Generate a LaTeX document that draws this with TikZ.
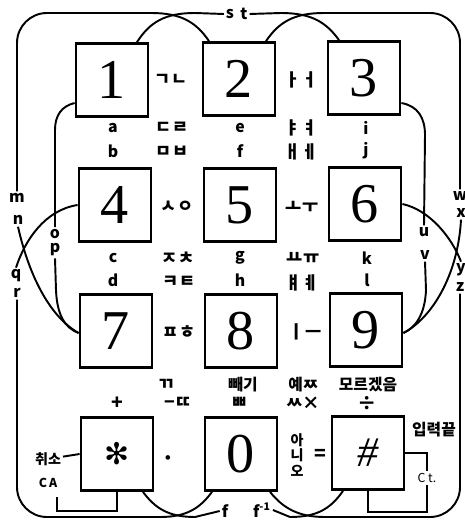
\documentclass[tikz,border=0pt]{standalone}
\usepackage{fontspec}
\newfontfamily\kr{Noto Sans CJK KR}
\newfontfamily\symfont{DejaVu Sans}
\newfontfamily\keyfont{Liberation Serif}
\usepackage{tikz}
\usetikzlibrary{arrows.meta, calc}

\tikzset{
  keybox/.style={draw, line width=1.6pt, minimum width=1.44cm, minimum height=1.46cm, inner sep=0pt, font=\keyfont\fontsize{32}{32}\selectfont},
  lbl/.style={inner sep=1pt, font=\kr\bfseries\fontsize{9}{9}\selectfont},
  jamo/.style={inner sep=1pt, font=\kr\bfseries\fontsize{10}{10}\selectfont},
  sign/.style={inner sep=1pt, font=\kr\bfseries\fontsize{11}{11}\selectfont},
  wire/.style={line width=1.1pt}
}

\begin{document}
\begin{tikzpicture}[x=0.02cm, y=-0.02cm]
    \useasboundingbox (0,0) rectangle (465,520);

    % keys
    \node[keybox] (k1) at (112,80) {1};
    \node[keybox] (k2) at (239,79) {2};
    \node[keybox] (k3) at (364,78) {3};
    \node[keybox] (k4) at (115,205) {4};
    \node[keybox] (k5) at (240,205) {5};
    \node[keybox] (k6) at (365,204) {6};
    \node[keybox] (k7) at (116,331) {7};
    \node[keybox] (k8) at (241,331) {8};
    \node[keybox] (k9) at (366,330) {9};
    \node[keybox, font=\symfont\fontsize{17}{17}\selectfont] (kstar) at (117,454) {✻};
    \node[keybox] (k0) at (241,454) {0};
    \node[keybox, font=\keyfont\itshape\fontsize{24}{24}\selectfont] (khash) at (368,453) {\#};

    % letters under the keys
    \node[lbl] (la) at (113,128) {a};
    \node[lbl] (lb) at (113,151) {b};
    \node[lbl] (le) at (240,128) {e};
    \node[lbl] (lf) at (240,151) {f};
    \node[lbl] (li) at (366,128) {i};
    \node[lbl] (lj) at (366,151) {j};
    \node[lbl] (lc) at (113,258) {c};
    \node[lbl] (ld) at (113,280) {d};
    \node[lbl] (lg) at (240,258) {g};
    \node[lbl] (lh) at (240,280) {h};
    \node[lbl] (lk) at (367,258) {k};
    \node[lbl] (ll) at (367,280) {l};

    % jamo between the keys
    \node[jamo] (gn) at (171,80) {ㄱㄴ};
    \node[jamo] (ao) at (301,80) {ㅏㅓ};
    \node[jamo] (dr) at (172,128) {ㄷㄹ};
    \node[jamo] (mb) at (172,152) {ㅁㅂ};
    \node[jamo] (yayo) at (301,128) {ㅑㅕ};
    \node[jamo] (aee) at (301,152) {ㅐㅔ};
    \node[jamo] (sng) at (177,207) {ㅅㅇ};
    \node[jamo] (ou) at (302,207) {ㅗㅜ};
    \node[jamo] (jch) at (178,258) {ㅈㅊ};
    \node[jamo] (kt) at (179,282) {ㅋㅌ};
    \node[jamo] (yoyu) at (303,258) {ㅛㅠ};
    \node[jamo] (yaeye) at (302,283) {ㅒㅖ};
    \node[jamo] (ph) at (179,332) {ㅍㅎ};
    \node[jamo] (ieu) at (305,332) {ㅣㅡ};

    % bottom row signs
    \node[sign] (plus) at (117,403) {+};
    \node[jamo] (gg) at (167,385) {ㄲ};
    \node[jamo] (dd) at (178,403) {−ㄸ};
    \node[lbl] (bbaegi) at (243,385) {빼기};
    \node[jamo] (bb) at (240,403) {ㅃ};
    \node[lbl] (yes) at (303,385) {예ㅉ};
    \node[jamo] (ss) at (303,403) {ㅆ×};
    \node[lbl] (dunno) at (368,385) {모르겠음};
    \node[sign] (divide) at (367,403) {÷};
    \node[font=\small] (point) at (168,459) {\textbullet};
    \node[lbl, align=center, font=\kr\bfseries\fontsize{8}{9}\selectfont] (no) at (297,455) {아\\니\\오};
    \node[sign] (equal) at (320,455) {=};
    \node[lbl] (enter) at (434,430) {입력끝};
    \node[lbl, font=\kr\bfseries\fontsize{8}{8}\selectfont] (cancel) at (48,459) {취소};
    \node[lbl, font=\kr\bfseries\fontsize{7}{7}\selectfont] (ca) at (48,483) {C\,A};
    \node[lbl, font=\kr\fontsize{7}{7}\selectfont] (ct) at (427,478) {C t.};

    % side and edge letters
    \node[lbl] (ls) at (230,14) {s};
    \node[lbl] (lt) at (244,14) {t};
    \node[lbl] (lm) at (17,198) {m};
    \node[lbl] (ln) at (18,220) {n};
    \node[lbl] (lo) at (55,234) {o};
    \node[lbl] (lp) at (55,250) {p};
    \node[lbl] (lq) at (16,276) {q};
    \node[lbl] (lr) at (17,293) {r};
    \node[lbl] (lu) at (424,232) {u};
    \node[lbl] (lv) at (425,255) {v};
    \node[lbl] (lw) at (460,196) {w};
    \node[lbl] (lx) at (461,213) {x};
    \node[lbl] (ly) at (461,270) {y};
    \node[lbl] (lz) at (460,287) {z};
    \node[lbl] (lff) at (225,511) {f};
    \node[lbl] (lfi) at (262,510) {f\textsuperscript{-1}};

    % top crossings
    \draw[wire] ($(k1.north)+(25,0)$) .. controls (150,22) and (165,13) .. (195,13) -- (ls.west);
    \draw[wire, rounded corners=0.6cm] (lm.north) |- (151,13);
    \draw[wire] (151,13) .. controls (181,13) and (196,22) .. ($(k2.north)+(-30,0)$);
    \draw[wire, rounded corners=0.6cm] (lw.north) |- (324,13);
    \draw[wire] (324,13) .. controls (294,13) and (279,22) .. ($(k2.north)+(27,0)$);
    \draw[wire] ($(k3.north)+(-25,0)$) .. controls (326,22) and (311,13) .. (281,13) -- (lt.east);

    % bottom crossings
    \draw[wire] ($(kstar.south)+(26,0)$) .. controls (155,508) and (168,517) .. (195,517) -- (lff.west);
    \draw[wire, rounded corners=0.6cm] (lr.south) |- (160,517);
    \draw[wire] (160,517) .. controls (187,517) and (200,508) .. ($(k0.south)+(-29,0)$);
    \draw[wire, rounded corners=0.6cm] (lz.south) |- (325,517);
    \draw[wire] (325,517) .. controls (298,517) and (283,508) .. ($(k0.south)+(29,0)$);
    \draw[wire] ($(khash.south)+(-25,0)$) .. controls (331,508) and (318,517) .. (290,517) -- (lfi.east);

    % left side
    \draw[wire] ($(k1.west)+(0,23)$) .. controls (62,106) and (55,115) .. (55,130) -- (lo.north);
    \draw[wire] (lp.south) -- (56,290) .. controls (57,315) and (65,328) .. ($(k7.west)+(0,2)$);
    \draw[wire] (ln.south) .. controls (30,280) and (52,318) .. ($(k7.west)+(0,2)$);
    \draw[wire] (k4.west) .. controls (45,210) and (25,240) .. (lq.north);

    % right side
    \draw[wire] ($(k3.east)+(0,25)$) .. controls (418,106) and (425,118) .. (425,135) -- (lu.north);
    \draw[wire] (lv.south) -- (426,290) .. controls (425,315) and (415,328) .. ($(k9.east)+(0,3)$);
    \draw[wire] (lx.south) .. controls (458,275) and (432,318) .. ($(k9.east)+(0,3)$);
    \draw[wire] (k6.east) .. controls (430,210) and (452,238) .. (ly.north);

    % cancel and clear brackets
    \coordinate (cafoot) at (57,497);
    \draw[wire] (cancel) -- (kstar.west);
    \draw[wire] (cafoot) |- ($(kstar.south)+(0,19)$) -- (kstar.south);
    \draw[wire] (khash.east) -| (ct.north);
    \draw[wire] (ct.south) |- ($(khash.south)+(0,21)$) -- (khash.south);
\end{tikzpicture}
\end{document}
